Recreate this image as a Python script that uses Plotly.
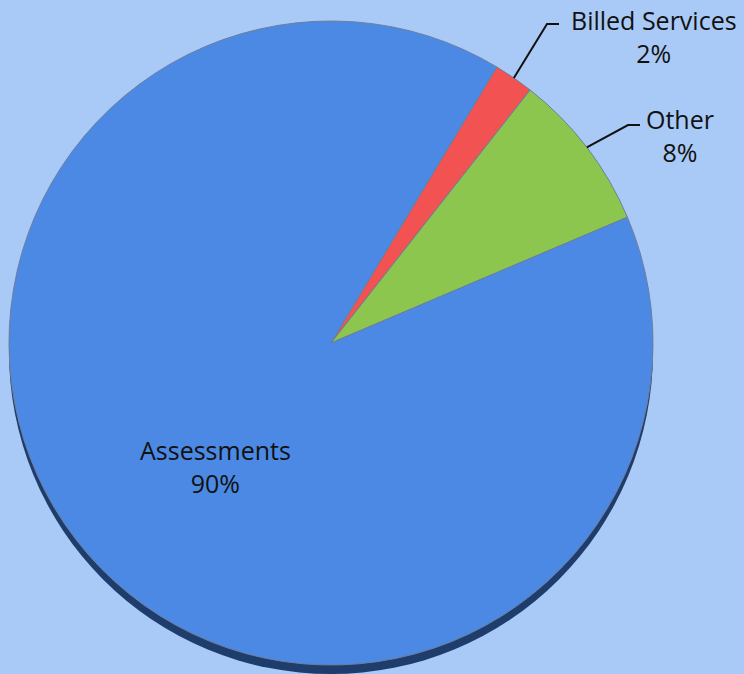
import plotly.graph_objects as go
import math

# Revenue sources
labels = ["Billed Services", "Other", "Assessments"]
values = [2, 8, 90]
colors = ["#F25252", "#8DC64E", "#4B89E4"]

W, H = 744, 674
BG = "#A9C9F6"

# Pie geometry in pixels
cx, cy, R = 331, 343, 322
shadow_drop = 9
rotation = 31

def dom(cx_, cy_, r_):
    return dict(x=[max(0, (cx_ - r_) / W), min(1, (cx_ + r_) / W)],
                y=[max(0, 1 - (cy_ + r_) / H), min(1, 1 - (cy_ - r_) / H)])

total = sum(values)
pct = [round(100 * v / total) for v in values]

fig = go.Figure()

# Dark rim underneath the pie for a raised look
fig.add_trace(go.Pie(
    values=[total], labels=["rim"], sort=False, textinfo="none",
    marker=dict(colors=["#1E3D6D"], line=dict(width=0)),
    domain=dom(cx, cy + shadow_drop, R), hoverinfo="skip", showlegend=False,
))

fig.add_trace(go.Pie(
    labels=labels, values=values, sort=False, direction="clockwise",
    rotation=rotation, textinfo="none",
    marker=dict(colors=colors, line=dict(color="#6E7F9C", width=1)),
    domain=dom(cx, cy, R), showlegend=False,
))

def px(x):
    return x / W

def py(y):
    return 1 - y / H

font = dict(family="Century Gothic, Open Sans, sans-serif", size=25, color="#111111")

# Edge point at the middle of each slice (clockwise from 12 o'clock)
def edge_point(i, r=R):
    start = rotation + 360 * sum(values[:i]) / total
    mid = math.radians(start + 180 * values[i] / total)
    return cx + r * math.sin(mid), cy - r * math.cos(mid)

# Outside labels with elbow leader lines
outside = {0: ((547, 24), (559, 24), (654, 37)),
           1: ((628, 125), (640, 125), (680, 136))}
shapes = []
annotations = []
for i, (elbow, end, txt) in outside.items():
    x0, y0 = edge_point(i)
    shapes.append(dict(type="path", xref="paper", yref="paper",
                       path=f"M {px(x0)},{py(y0)} L {px(elbow[0])},{py(elbow[1])} L {px(end[0])},{py(end[1])}",
                       line=dict(color="#111111", width=2)))
    annotations.append(dict(x=px(txt[0]), y=py(txt[1]), xref="paper", yref="paper",
                            text=f"{labels[i]}<br>{pct[i]}%", showarrow=False,
                            font=font, align="center", xanchor="center", yanchor="middle"))

annotations.append(dict(x=px(215), y=py(466), xref="paper", yref="paper",
                        text=f"{labels[2]}<br>{pct[2]}%", showarrow=False,
                        font=font, align="center", xanchor="center", yanchor="middle"))

fig.update_layout(
    width=W, height=H, margin=dict(l=0, r=0, t=0, b=0),
    paper_bgcolor=BG, plot_bgcolor=BG,
    shapes=shapes, annotations=annotations,
)

fig.write_html("out.html")
